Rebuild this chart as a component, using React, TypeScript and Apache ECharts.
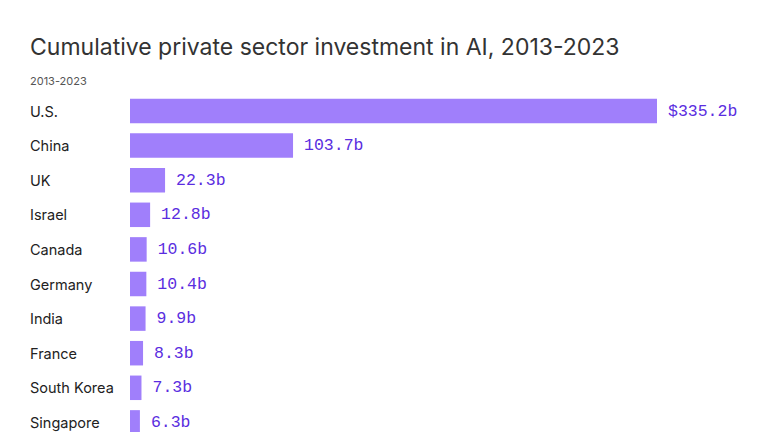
import React, { useEffect, useRef } from "react";
import * as echarts from "echarts";

const countries = ["U.S.", "China", "UK", "Israel", "Canada", "Germany", "India", "France", "South Korea", "Singapore"];
const values = [335.2, 103.7, 22.3, 12.8, 10.6, 10.4, 9.9, 8.3, 7.3, 6.3];
const valueLabels = ["$335.2b", "103.7b", "22.3b", "12.8b", "10.6b", "10.4b", "9.9b", "8.3b", "7.3b", "6.3b"];

export default function App() {
  const ref = useRef<HTMLDivElement>(null);
  useEffect(() => {
    const chart = echarts.init(ref.current!, null, { renderer: "svg" });
    chart.setOption({
      animation: false,
      backgroundColor: "#ffffff",
      title: [
        {
          text: "Cumulative private sector investment in AI, 2013-2023",
          left: 25,
          top: 30,
          textStyle: { fontFamily: "Inter", fontSize: 23, fontWeight: 400, color: "#333333" },
        },
        {
          text: "2013-2023",
          left: 25,
          top: 70,
          textStyle: { fontFamily: "Inter", fontSize: 11, fontWeight: 400, color: "#555555" },
        },
      ],
      grid: { left: 130, right: 111, top: 93.7, height: 346, containLabel: false, outerBoundsMode: "none" },
      xAxis: {
        type: "value",
        min: 0,
        max: 335.2,
        show: false,
      },
      yAxis: {
        type: "category",
        data: countries,
        inverse: true,
        axisLine: { show: false },
        axisTick: { show: false },
        axisLabel: {
          align: "left",
          margin: 100,
          fontFamily: "Inter",
          fontSize: 14.5,
          color: "#222222",
        },
      },
      series: [
        {
          type: "bar",
          data: values,
          barWidth: 24.5,
          itemStyle: { color: "#a07ffb" },
          label: {
            show: true,
            position: "right",
            distance: 11,
            fontFamily: "Liberation Mono",
            fontSize: 16.5,
            color: "#5a2de0",
            formatter: (p: any) => valueLabels[p.dataIndex],
          },
        },
      ],
    });
    return () => chart.dispose();
  }, []);
  return <div ref={ref} style={{ position: "fixed", left: 0, top: 0, width: 768, height: 432 }} />;
}
